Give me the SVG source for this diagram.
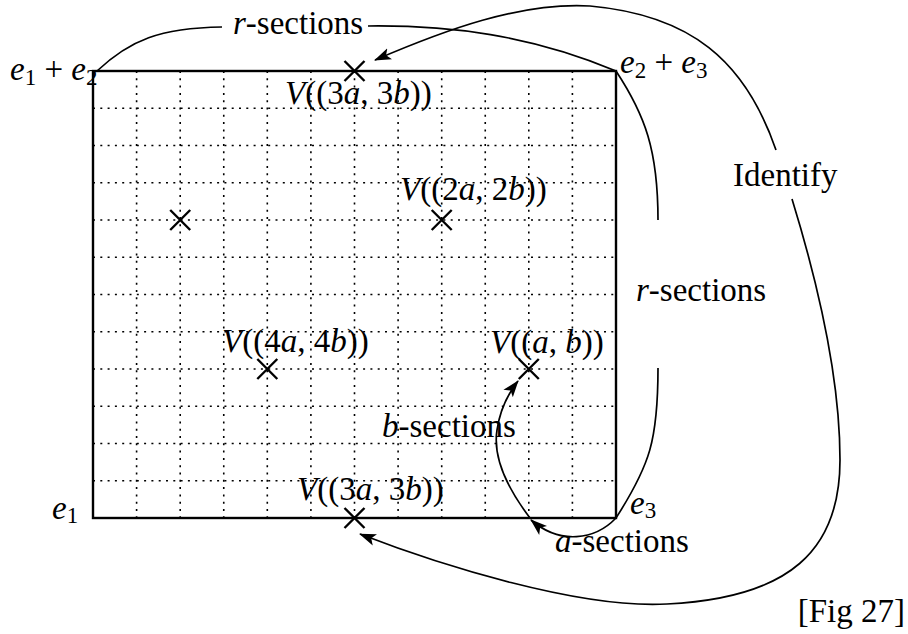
<svg xmlns="http://www.w3.org/2000/svg" width="908" height="634" viewBox="0 0 908 634" font-family="Liberation Serif, serif">
<style>
text{font-family:'Liberation Serif',serif;font-size:33px;fill:#000}
.it{font-style:italic}
.sub{font-size:23px}
.grid{stroke:#000;stroke-width:1.6;stroke-dasharray:2 5.3;fill:none}
.frame{stroke:#000;stroke-width:2.4;fill:none}
.cross{stroke:#000;stroke-width:2.4;fill:none}
.conn{stroke:#000;stroke-width:1.7;fill:none}
.arr{marker-end:url(#ah)}
</style>
<defs>
<marker id="ah" markerUnits="userSpaceOnUse" markerWidth="19" markerHeight="14" refX="16" refY="7" orient="auto">
<path d="M0,1 L17,7 L0,13 L4,7 z" fill="#000"/>
</marker>
</defs>
<rect width="908" height="634" fill="#fff"/>
<g id="grid">
<path class="grid" d="M136.6,71V518M180.2,71V518M223.75,71V518M267.3,71V518M310.9,71V518M354.5,71V518M398.1,71V518M441.7,71V518M485.25,71V518M528.8,71V518M572.4,71V518"/>
<path class="grid" d="M93,108.25H616M93,145.5H616M93,182.75H616M93,220H616M93,257.25H616M93,294.5H616M93,331.75H616M93,369H616M93,406.25H616M93,443.5H616M93,480.75H616"/>
<rect class="frame" x="93" y="71" width="523" height="447"/>
</g>
<g id="corner-e1e2"><text x="10" y="80"><tspan class="it">e</tspan><tspan class="sub" dy="5">1</tspan><tspan dy="-5"> + </tspan><tspan class="it">e</tspan><tspan class="sub" dy="5">2</tspan></text></g>
<g id="corner-e2e3"><text x="620" y="73"><tspan class="it">e</tspan><tspan class="sub" dy="5">2</tspan><tspan dy="-5"> + </tspan><tspan class="it">e</tspan><tspan class="sub" dy="5">3</tspan></text></g>
<g id="corner-e1"><text x="52" y="519"><tspan class="it">e</tspan><tspan class="sub" dy="4">1</tspan></text></g>
<g id="corner-e3"><text x="630" y="514"><tspan class="it">e</tspan><tspan class="sub" dy="4">3</tspan></text></g>
<g id="v3a3b-top"><path class="cross" d="M344.5,61L364.5,81M344.5,81L364.5,61"/><text x="285" y="104"><tspan class="it">V</tspan>((3<tspan class="it">a</tspan>, 3<tspan class="it">b</tspan>))</text></g>
<g id="pt-left"><path class="cross" d="M170.2,210L190.2,230M170.2,230L190.2,210"/></g>
<g id="v2a2b"><path class="cross" d="M431.7,210L451.7,230M431.7,230L451.7,210"/><text x="400" y="200"><tspan class="it">V</tspan>((2<tspan class="it">a</tspan>, 2<tspan class="it">b</tspan>))</text></g>
<g id="v4a4b"><path class="cross" d="M257.3,359L277.3,379M257.3,379L277.3,359"/><text x="222" y="352"><tspan class="it">V</tspan>((4<tspan class="it">a</tspan>, 4<tspan class="it">b</tspan>))</text></g>
<g id="vab"><path class="cross" d="M518.8,359L538.8,379M518.8,379L538.8,359"/><text x="490" y="353"><tspan class="it">V</tspan>((<tspan class="it">a</tspan>, <tspan class="it">b</tspan>))</text></g>
<g id="v3a3b-bottom"><path class="cross" d="M344.5,508L364.5,528M344.5,528L364.5,508"/><text x="297" y="500"><tspan class="it">V</tspan>((3<tspan class="it">a</tspan>, 3<tspan class="it">b</tspan>))</text></g>
<g id="connectors">
<path class="conn" d="M97,71 C130,40 160,28 222,27"/>
<path class="conn" d="M368,26 C450,25 530,35 616,71 C645,115 658,150 658,220"/>
<path class="conn" d="M658,368 C658,440 650,465 616,518"/>
<path class="conn arr" d="M616,518 C595,540 560,545 531,520"/>
<path class="conn arr" d="M530,518 C505,485 493,455 497,430 C500,410 507,395 518,381"/>
<path class="conn arr" d="M776,150 C745,60 690,15 590,6 C520,2 445,30 375,60"/>
<path class="conn arr" d="M792,199 C820,290 840,380 840,460 C840,550 790,598 667,604 C580,609 440,565 360,534"/>
<text x="233" y="34"><tspan class="it">r</tspan>-sections</text>
<text x="636" y="301"><tspan class="it">r</tspan>-sections</text>
<text x="733" y="186">Identify</text>
<text x="382" y="437"><tspan class="it">b</tspan>-sections</text>
<text x="555" y="552"><tspan class="it">a</tspan>-sections</text>
</g>
<text x="905" y="622" text-anchor="end">[Fig 27]</text>
</svg>
